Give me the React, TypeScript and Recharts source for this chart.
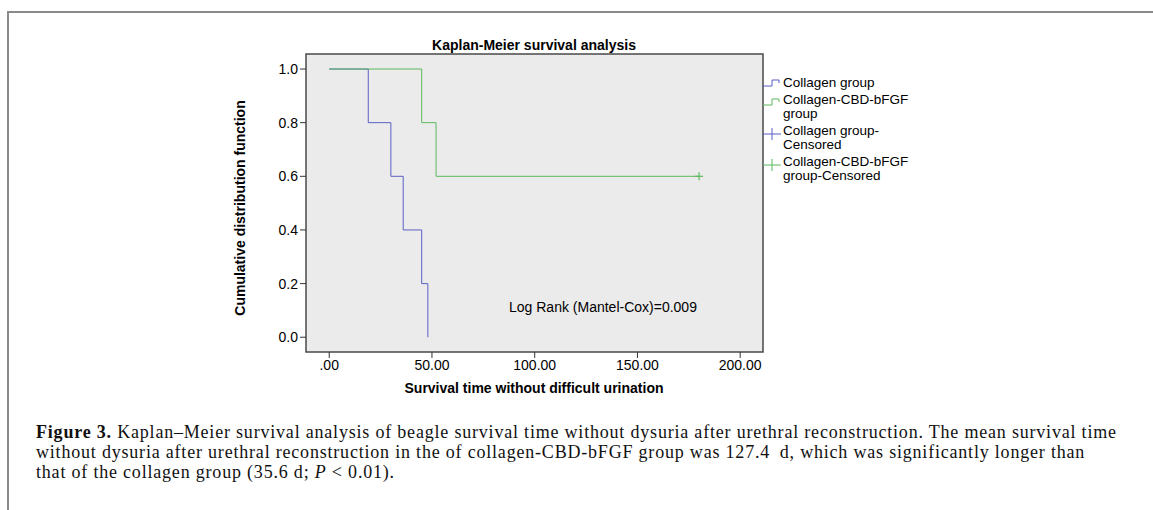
import React from "react";
import { LineChart, Line, XAxis, YAxis, ReferenceArea, Legend } from "recharts";

// Kaplan-Meier steps (time in days, cumulative survival)
const collagenTimes = [0, 19, 30, 36, 45, 48];
const collagenSurvival = [1.0, 0.8, 0.6, 0.4, 0.2, 0.0];
const cbdTimes = [0, 45, 52, 180];
const cbdSurvival = [1.0, 0.8, 0.6, 0.6];
const cbdCensored = [false, false, false, true];

const xTicks = [0, 50, 100, 150, 200];
const yTicks = [0, 0.2, 0.4, 0.6, 0.8, 1.0];
const xDomain: [number, number] = [-11.3, 211.1];
const yDomain: [number, number] = [-0.055, 1.056];

const legendItems = [
  { lines: ["Collagen group"], color: "#5a5fc4", kind: "step" },
  { lines: ["Collagen-CBD-bFGF", "group"], color: "#5cb85c", kind: "step" },
  { lines: ["Collagen group-", "Censored"], color: "#5a5fc4", kind: "cross" },
  { lines: ["Collagen-CBD-bFGF", "group-Censored"], color: "#5cb85c", kind: "cross" },
];

const captionLines = [
  "Kaplan\u2013Meier survival analysis of beagle survival time without dysuria after urethral reconstruction. The mean survival time",
  "without dysuria after urethral reconstruction in the of collagen-CBD-bFGF group was 127.4\u2009 d, which was significantly longer than",
];

const BLUE = "#5a5fc4";
const GREEN = "#5cb85c";
const SANS = "'Liberation Sans', Arial, sans-serif";
const SERIF = "'Liberation Serif', 'Times New Roman', serif";

const collagenData = collagenTimes.map((t, i) => ({ t, s: collagenSurvival[i] }));
const cbdData = cbdTimes.map((t, i) => ({ t, s: cbdSurvival[i], c: cbdCensored[i] }));

function CensorDot(props: any) {
  const { cx, cy, payload, index } = props;
  if (!payload || !payload.c) return <g key={`d${index}`} />;
  return (
    <g key={`d${index}`}>
      <line x1={cx - 4} x2={cx + 4} y1={cy} y2={cy} stroke={GREEN} strokeWidth={1.2} />
      <line x1={cx} x2={cx} y1={cy - 4} y2={cy + 4} stroke={GREEN} strokeWidth={1.2} />
    </g>
  );
}

function LegendBox() {
  const tops = [76, 93, 124, 155];
  return (
    <div style={{ position: "relative", width: 220, height: 130, fontFamily: SANS, fontSize: 13.5, color: "#000" }}>
      {legendItems.map((item, i) => {
        const top = tops[i] - 76;
        const symY = item.lines.length === 1 ? 3 : 5;
        return (
          <div key={i} style={{ position: "absolute", left: 0, top }}>
            <svg width={20} height={16} style={{ position: "absolute", left: 0, top: symY - 2 }}>
              {item.kind === "step" ? (
                <path d="M0,9 H9 V3 H16 V6" fill="none" stroke={item.color} strokeWidth={1} />
              ) : (
                <g stroke={item.color} strokeWidth={1}>
                  <line x1={0} x2={18} y1={7} y2={7} />
                  <line x1={9} x2={9} y1={1} y2={13} />
                </g>
              )}
            </svg>
            <div style={{ position: "absolute", left: 20, top: 0, lineHeight: "14px", whiteSpace: "nowrap" }}>
              {item.lines.map((l, j) => (
                <div key={j}>{l}</div>
              ))}
            </div>
          </div>
        );
      })}
    </div>
  );
}

export default function App() {
  const tickStyle = { fill: "#000", fontSize: 14, fontFamily: SANS };
  return (
    <div style={{ position: "absolute", left: 0, top: 0, width: 1153, height: 510, background: "#fff", overflow: "hidden" }}>
      {/* page frame */}
      <div style={{ position: "absolute", left: 8, top: 11, width: 1145, height: 2, background: "#8a8a8a" }} />
      <div style={{ position: "absolute", left: 7, top: 11, width: 2, height: 499, background: "#8a8a8a" }} />

      <div style={{ position: "absolute", left: 0, top: 0 }}>
        <LineChart width={1153} height={400} margin={{ top: 54, right: 390, left: 246, bottom: 8 }}>
          <XAxis
            type="number"
            dataKey="t"
            domain={xDomain}
            allowDataOverflow
            ticks={xTicks}
            tickFormatter={(v: number) => (v === 0 ? ".00" : v.toFixed(2))}
            tick={tickStyle}
            tickSize={6}
            tickLine={{ stroke: "#333" }}
            axisLine={false}
            height={40}
          />
          <YAxis
            type="number"
            dataKey="s"
            domain={yDomain}
            allowDataOverflow
            ticks={yTicks}
            tickFormatter={(v: number) => v.toFixed(1)}
            tick={tickStyle}
            tickSize={6}
            tickLine={{ stroke: "#333" }}
            axisLine={false}
            width={60}
          />
          <ReferenceArea
            x1={xDomain[0]}
            x2={xDomain[1]}
            y1={yDomain[0]}
            y2={yDomain[1]}
            fill="#ebebeb"
            fillOpacity={1}
            stroke="#4a4a4a"
            strokeWidth={1.5}
          />
          <Line
            data={collagenData}
            dataKey="s"
            type="stepAfter"
            stroke={BLUE}
            strokeWidth={1}
            dot={false}
            isAnimationActive={false}
            name="Collagen group"
          />
          <Line
            data={cbdData}
            dataKey="s"
            type="stepAfter"
            stroke={GREEN}
            strokeWidth={1}
            dot={CensorDot}
            isAnimationActive={false}
            name="Collagen-CBD-bFGF group"
          />
          <Legend
            layout="vertical"
            align="center"
            verticalAlign="middle"
            content={() => <LegendBox />}
            wrapperStyle={{ left: 763, top: 76, width: 220 }}
          />
        </LineChart>
      </div>

      <div style={{ position: "absolute", left: 534, top: 45, transform: "translate(-50%,-50%)", fontFamily: SANS, fontSize: 14, fontWeight: "bold", whiteSpace: "nowrap" }}>
        Kaplan-Meier survival analysis
      </div>
      <div style={{ position: "absolute", left: 240, top: 208, transform: "translate(-50%,-50%) rotate(-90deg)", fontFamily: SANS, fontSize: 14, fontWeight: "bold", whiteSpace: "nowrap" }}>
        Cumulative distribution function
      </div>
      <div style={{ position: "absolute", left: 534, top: 388, transform: "translate(-50%,-50%)", fontFamily: SANS, fontSize: 14, fontWeight: "bold", whiteSpace: "nowrap" }}>
        Survival time without difficult urination
      </div>
      <div style={{ position: "absolute", left: 509, top: 307, transform: "translateY(-50%)", fontFamily: SANS, fontSize: 14, whiteSpace: "nowrap" }}>
        Log Rank (Mantel-Cox)=0.009
      </div>

      <div style={{ position: "absolute", left: 36, top: 422, fontFamily: SERIF, fontSize: 18, lineHeight: "20px", letterSpacing: "0.8px", color: "#111", whiteSpace: "nowrap" }}>
        <div>
          <b>Figure 3.</b> {captionLines[0]}
        </div>
        <div>{captionLines[1]}</div>
        <div>
          that of the collagen group (35.6 d; <i>P</i> {"<"} 0.01).
        </div>
      </div>
    </div>
  );
}
